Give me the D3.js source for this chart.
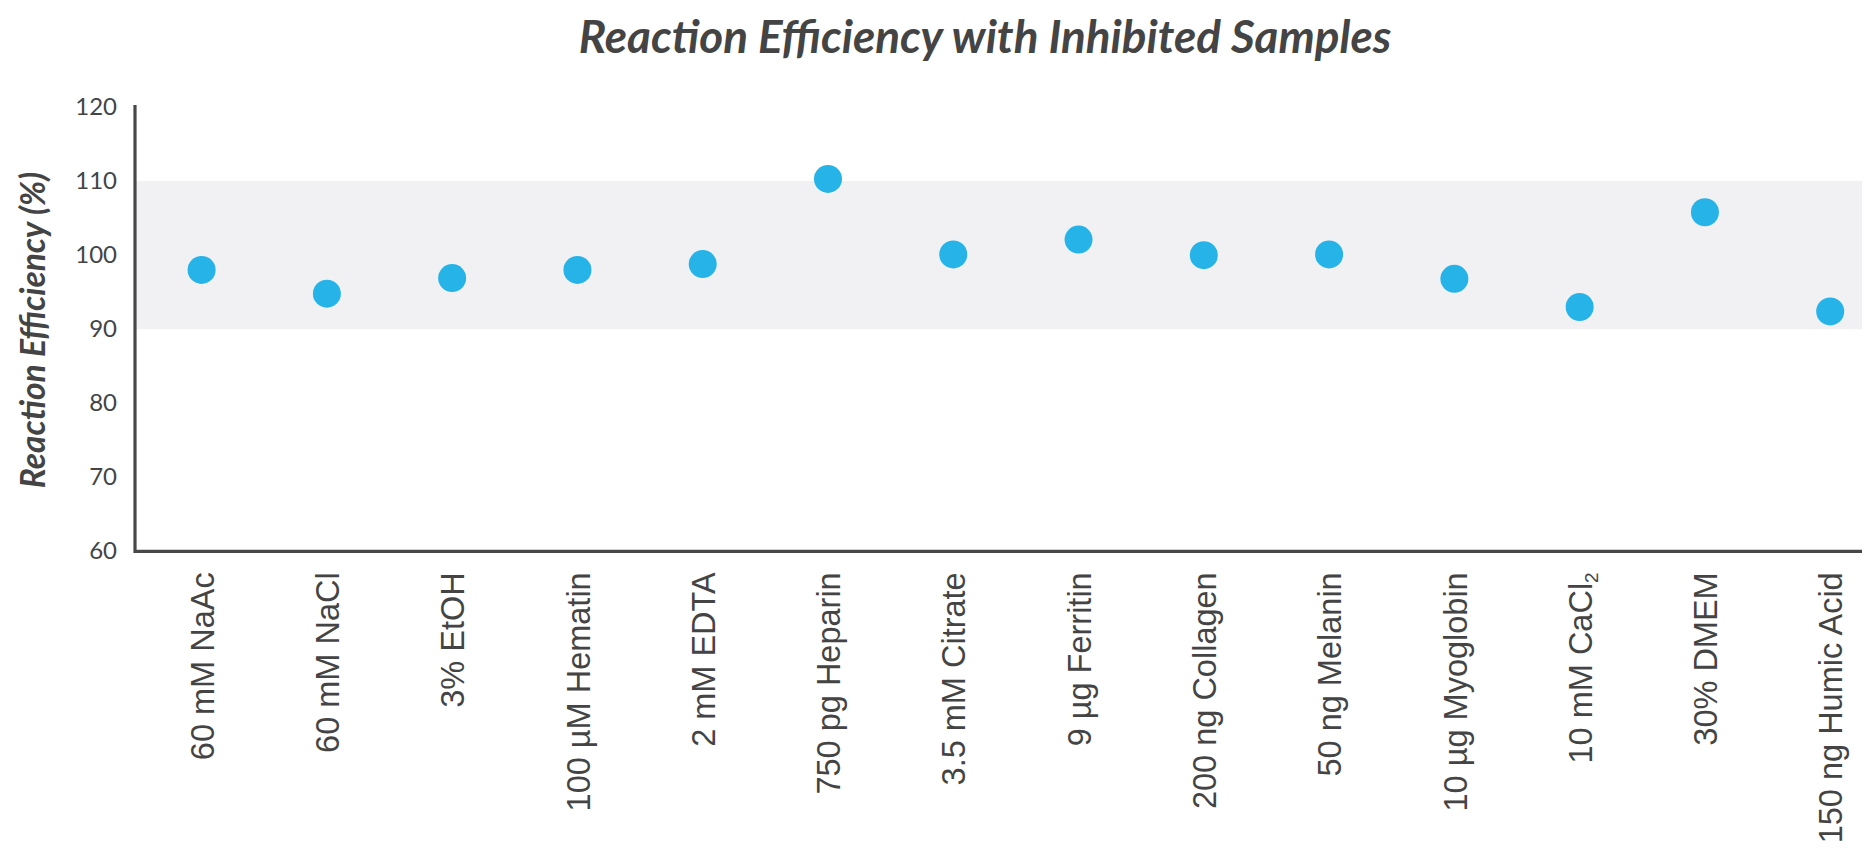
<!DOCTYPE html>
<html>
<head>
<meta charset="utf-8">
<script src="https://cdn.jsdelivr.net/npm/d3@7"></script>
<style>
  html, body { margin: 0; padding: 0; background: #ffffff; }
  svg { display: block; }
</style>
</head>
<body>
<script>
// ---- Data ----
const categories = ["60 mM NaAc", "60 mM NaCl", "3% EtOH", "100 µM Hematin", "2 mM EDTA",
  "750 pg Heparin", "3.5 mM Citrate", "9 µg Ferritin", "200 ng Collagen", "50 ng Melanin",
  "10 µg Myoglobin", "10 mM CaCl₂", "30% DMEM", "150 ng Humic Acid"];
const efficiency = [98.0, 94.8, 96.9, 98.0, 98.8, 110.3, 100.1, 102.1, 100.0, 100.1, 96.8, 93.0, 105.8, 92.4];
const yTicks = [60, 70, 80, 90, 100, 110, 120];
const acceptableRange = [90, 110];
const titleText = "Reaction Efficiency with Inhibited Samples";
const yLabelText = "Reaction Efficiency (%)";

// ---- Layout ----
const W = 1870, H = 857;
const plotLeft = 135, plotRight = 1862;
const yBottom = 551.3, yTop = 107.1;
const firstX = 201.6, lastX = 1830.2;
const textColor = "#444444";
const axisColor = "#484848";
const dotColor = "#26b3e8";
const bandColor = "#f1f1f3";

const svg = d3.select("body").append("svg").attr("width", W).attr("height", H);

const y = d3.scaleLinear().domain([60, 120]).range([yBottom, yTop]);
const x = d3.scalePoint().domain(categories).range([firstX, lastX]);

// band
svg.append("rect")
  .attr("x", plotLeft)
  .attr("y", y(acceptableRange[1]))
  .attr("width", plotRight - plotLeft)
  .attr("height", y(acceptableRange[0]) - y(acceptableRange[1]))
  .attr("fill", bandColor);

// y axis
const yAxis = d3.axisLeft(y).tickValues(yTicks).tickSize(0).tickPadding(18).tickSizeOuter(0);
const gy = svg.append("g").attr("transform", `translate(${plotLeft},0)`).call(yAxis);
gy.select(".domain").remove();
gy.selectAll("text")
  .attr("fill", textColor)
  .style("font-family", "Lato, sans-serif")
  .style("font-size", "24px");

// axis lines
svg.append("path")
  .attr("d", d3.line()([[plotLeft, y(120) - 2], [plotLeft, y(60)], [plotRight, y(60)]]))
  .attr("fill", "none")
  .attr("stroke", axisColor)
  .attr("stroke-width", 3.2);

// x axis labels
const xAxis = d3.axisBottom(x).tickSize(0).tickFormat("");
const gx = svg.append("g").attr("transform", `translate(0,${y(60)})`).call(xAxis);
gx.select(".domain").remove();
gx.selectAll(".tick").each(function(d) {
  const t = d3.select(this).append("text")
    .attr("transform", "translate(0,21) rotate(-90)")
    .attr("text-anchor", "end")
    .attr("dy", "0.36em")
    .attr("fill", textColor)
    .style("font-family", "'Liberation Sans', Arial, sans-serif")
    .style("font-size", "32.5px");
  if (d.includes("₂")) {
    const parts = d.split("₂");
    t.append("tspan").text(parts[0]);
    t.append("tspan").text("2").style("font-size", "19px").attr("dy", "0.35em");
  } else {
    t.text(d);
  }
});

// dots
svg.append("g").selectAll("circle")
  .data(categories.map((c, i) => ({ c, v: efficiency[i] })))
  .join("circle")
  .attr("cx", d => x(d.c))
  .attr("cy", d => y(d.v))
  .attr("r", 14)
  .attr("fill", dotColor);

// title
svg.append("text")
  .attr("x", 985)
  .attr("y", 53)
  .attr("text-anchor", "middle")
  .attr("fill", textColor)
  .style("font-family", "Lato, sans-serif")
  .style("font-weight", "700")
  .style("font-style", "italic")
  .style("font-size", "45.8px")
  .text(titleText);

// y label
svg.append("text")
  .attr("transform", `translate(45,330) rotate(-90)`)
  .attr("text-anchor", "middle")
  .attr("fill", textColor)
  .style("font-family", "Lato, sans-serif")
  .style("font-weight", "700")
  .style("font-style", "italic")
  .style("font-size", "33.5px")
  .text(yLabelText);
</script>
</body>
</html>
